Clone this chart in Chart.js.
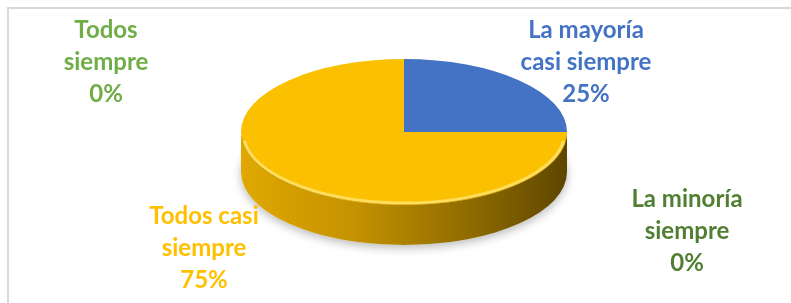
<!DOCTYPE html>
<html>
<head>
<meta charset="utf-8">
<script src="https://cdn.jsdelivr.net/npm/chart.js@4.4.1/dist/chart.umd.min.js"></script>
<style>
  html, body { margin: 0; padding: 0; background: #fff; }
  #wrap { position: relative; width: 791px; height: 303px; }
  #frame { position: absolute; left: 7px; top: 7px; width: 784px; height: 296px;
           border-top: 2px solid #d9d9d9; border-left: 2px solid #d9d9d9; box-sizing: border-box; }
  canvas { position: absolute; left: 0; top: 0; }
</style>
</head>
<body>
<div id="wrap">
  <div id="frame"></div>
  <canvas id="pieChart" width="791" height="303"></canvas>
</div>
<script>
// Data
const categories = ['La mayoría casi siempre', 'Todos casi siempre', 'La minoría siempre', 'Todos siempre'];
const shares = [25, 75, 0, 0];
const sliceColors = ['#4472C4', '#FBC000', '#507E32', '#70AD47'];
const labelColors = ['#4472C4', '#FFC000', '#507E32', '#70AD47'];
// side (extrusion) shades per slice: left, middle1, middle2, right
const sideShades = [
    ['#3a62a8', '#335a9c', '#2a4a80', '#1f3a6b'],
    ['#e0a800', '#c49200', '#8f6b00', '#5e4600'],
    ['#3f6428', '#37581f', '#2c461a', '#22361a'],
    ['#5e9239', '#52823a', '#456c2c', '#34521f']
];

// Label layout (centre of first line) and line split
const labelLayout = [
    { x: 586, y: 30 },
    { x: 204, y: 216 },
    { x: 687, y: 199 },
    { x: 106, y: 30 }
];
const labelLines = [
    ['La mayoría', 'casi siempre'],
    ['Todos casi', 'siempre'],
    ['La minoría', 'siempre'],
    ['Todos', 'siempre']
];

const RX = 163;        // pie radius (horizontal)
const TILT = 73 / 163; // vertical squash of the top face
const DEPTH = 40;      // thickness of the pie

function ellPt(cx, cy, a, dy) {
    return [cx + RX * Math.cos(a), cy + RX * TILT * Math.sin(a) + (dy || 0)];
}

const pie3d = {
    id: 'pie3d',
    beforeDatasetsDraw(chart) {
        const ctx = chart.ctx;
        const meta = chart.getDatasetMeta(0);
        const first = meta.data[0];
        const cx = first.x, cy = first.y;

        // soft shadow under the pie
        ctx.save();
        ctx.beginPath();
        ctx.ellipse(cx, cy + DEPTH, RX, RX * TILT, 0, 0, Math.PI * 2);
        ctx.fillStyle = '#ffffff';
        ctx.shadowColor = 'rgba(0,0,0,0.28)';
        ctx.shadowBlur = 10;
        ctx.shadowOffsetY = 3;
        ctx.fill();
        ctx.restore();

        // sides for the front half of each slice
        const norm = a => ((a % (Math.PI * 2)) + Math.PI * 2) % (Math.PI * 2);
        meta.data.forEach((arc, i) => {
            const p = arc.getProps(['startAngle', 'endAngle'], true);
            const span = p.endAngle - p.startAngle;
            if (span <= 0) return;
            const pieces = [];
            let a0 = norm(p.startAngle);
            for (let k = 0; k < 2; k++) {
                const lo = Math.max(a0, 0), hi = Math.min(a0 + span, Math.PI);
                if (hi > lo) pieces.push([lo, hi]);
                a0 -= Math.PI * 2;
            }
            pieces.forEach(([lo, hi]) => {
                ctx.save();
                ctx.beginPath();
                ctx.ellipse(cx, cy, RX, RX * TILT, 0, lo, hi, false);
                const end = ellPt(cx, cy, hi, DEPTH);
                ctx.lineTo(end[0], end[1]);
                ctx.ellipse(cx, cy + DEPTH, RX, RX * TILT, 0, hi, lo, true);
                ctx.closePath();
                const g = ctx.createLinearGradient(cx - RX, 0, cx + RX, 0);
                g.addColorStop(0, sideShades[i][0]);
                g.addColorStop(0.35, sideShades[i][1]);
                g.addColorStop(0.7, sideShades[i][2]);
                g.addColorStop(1, sideShades[i][3]);
                ctx.fillStyle = g;
                ctx.fill();
                ctx.restore();
            });
        });

        // squash the top face
        ctx.save();
        ctx.translate(cx, cy);
        ctx.scale(1, TILT);
        ctx.translate(-cx, -cy);
    },
    afterDatasetsDraw(chart) {
        const ctx = chart.ctx;
        ctx.restore();
        const first = chart.getDatasetMeta(0).data[0];
        const cx = first.x, cy = first.y;
        // bevel highlight along the front rim
        ctx.save();
        ctx.beginPath();
        ctx.ellipse(cx, cy, RX - 2, RX * TILT - 2, 0, 0.04 * Math.PI, 0.96 * Math.PI);
        ctx.strokeStyle = 'rgba(255, 226, 110, 0.85)';
        ctx.lineWidth = 3;
        ctx.stroke();
        ctx.beginPath();
        ctx.ellipse(cx, cy, RX, RX * TILT, 0, 0.02 * Math.PI, 0.98 * Math.PI);
        ctx.strokeStyle = 'rgba(190, 140, 0, 0.6)';
        ctx.lineWidth = 1;
        ctx.stroke();
        ctx.restore();
    },
    afterDraw(chart) {
        const ctx = chart.ctx;
        const total = shares.reduce((a, b) => a + b, 0);
        ctx.save();
        ctx.font = 'bold 24px Lato';
        ctx.textAlign = 'center';
        ctx.textBaseline = 'middle';
        categories.forEach((c, i) => {
            const pos = labelLayout[i];
            const lines = labelLines[i].concat([Math.round(shares[i] / total * 100) + '%']);
            ctx.fillStyle = labelColors[i];
            lines.forEach((t, k) => ctx.fillText(t, pos.x, pos.y + k * 32));
        });
        ctx.restore();
    }
};

function init() {
    new Chart(document.getElementById('pieChart'), {
        type: 'pie',
        data: {
            labels: categories,
            datasets: [{
                data: shares,
                backgroundColor: sliceColors,
                borderWidth: 0,
                radius: RX,
                clip: false
            }]
        },
        options: {
            responsive: false,
            animation: false,
            layout: { padding: { left: 17, right: 0, top: 0, bottom: 39 } },
            plugins: {
                legend: { display: false },
                tooltip: { enabled: false }
            }
        },
        plugins: [pie3d]
    });
}

document.addEventListener('DOMContentLoaded', init);
</script>
</body>
</html>
